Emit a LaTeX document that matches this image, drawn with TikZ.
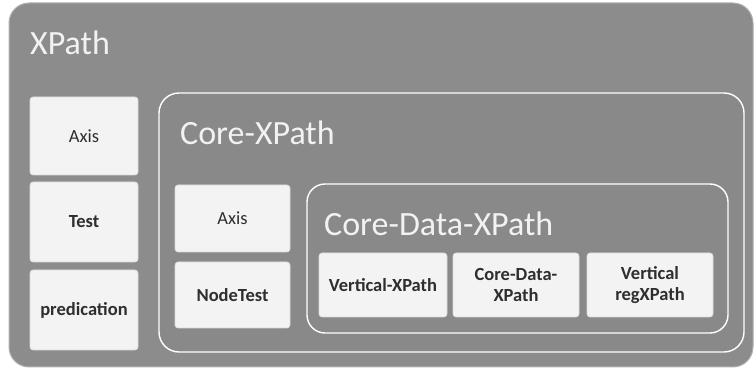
\documentclass[tikz,border=0pt]{standalone}
\usepackage{fontspec}
\setmainfont{Carlito}
\begin{document}
\begin{tikzpicture}[x=1pt,y=-1pt,
  frame/.style={fill=panelgray, draw=white, line width=1.4pt, rounded corners=20pt},
  leaf/.style={fill=leafwhite, draw=leafedge, line width=0.6pt, rounded corners=3pt, inner sep=0pt,
    align=center, text=textdark, font=\fontsize{18.5}{21}\selectfont\bfseries},
  leafthin/.style={leaf, font=\fontsize{18.5}{21}\selectfont},
  title/.style={anchor=west, text=titlewhite, inner sep=0pt, font=\fontsize{34}{40}\selectfont}]
\definecolor{panelgray}{HTML}{898989}
\definecolor{outergray}{HTML}{8C8C8C}
\definecolor{leafwhite}{HTML}{F3F3F3}
\definecolor{leafedge}{HTML}{DADADA}
\definecolor{textdark}{HTML}{2E2E2E}
\definecolor{titlewhite}{HTML}{F2F2F2}
\useasboundingbox (0,0) rectangle (756,371);
\fill[white] (0,0) rectangle (756,371);
% outer XPath panel
\draw[fill=outergray, draw=gray!60, line width=1pt, rounded corners=20pt] (9,3) rectangle (753,367);
\node[title] (xpathlbl) at (30,43) {XPath};
\node[leafthin, minimum width=108pt, minimum height=78pt] (axisA) at (84,136) {Axis};
\node[leaf, minimum width=108pt, minimum height=80pt] (test) at (84,222) {Test};
\node[leaf, minimum width=108pt, minimum height=80pt] (pred) at (84,310) {predication};
% Core-XPath panel
\draw[frame] (159,93) rectangle (744,352);
\node[title] (corelbl) at (180,133) {Core-XPath};
\node[leafthin, minimum width=115pt, minimum height=67pt] (axisB) at (232.5,218.5) {Axis};
\node[leaf, minimum width=115pt, minimum height=66pt] (nodetest) at (232.5,295) {NodeTest};
% Core-Data-XPath panel
\draw[frame, rounded corners=18pt] (307,184) rectangle (728,333);
\node[title] (cdlbl) at (324,224) {Core-Data-XPath};
\node[leaf, minimum width=128pt, minimum height=64pt] (vert) at (383,285) {Vertical-XPath};
\node[leaf, minimum width=126pt, minimum height=64pt] (cdx) at (516,285) {Core-Data-\\XPath};
\node[leaf, minimum width=126pt, minimum height=64pt] (vreg) at (650,285) {Vertical\\regXPath};
\end{tikzpicture}
\end{document}
